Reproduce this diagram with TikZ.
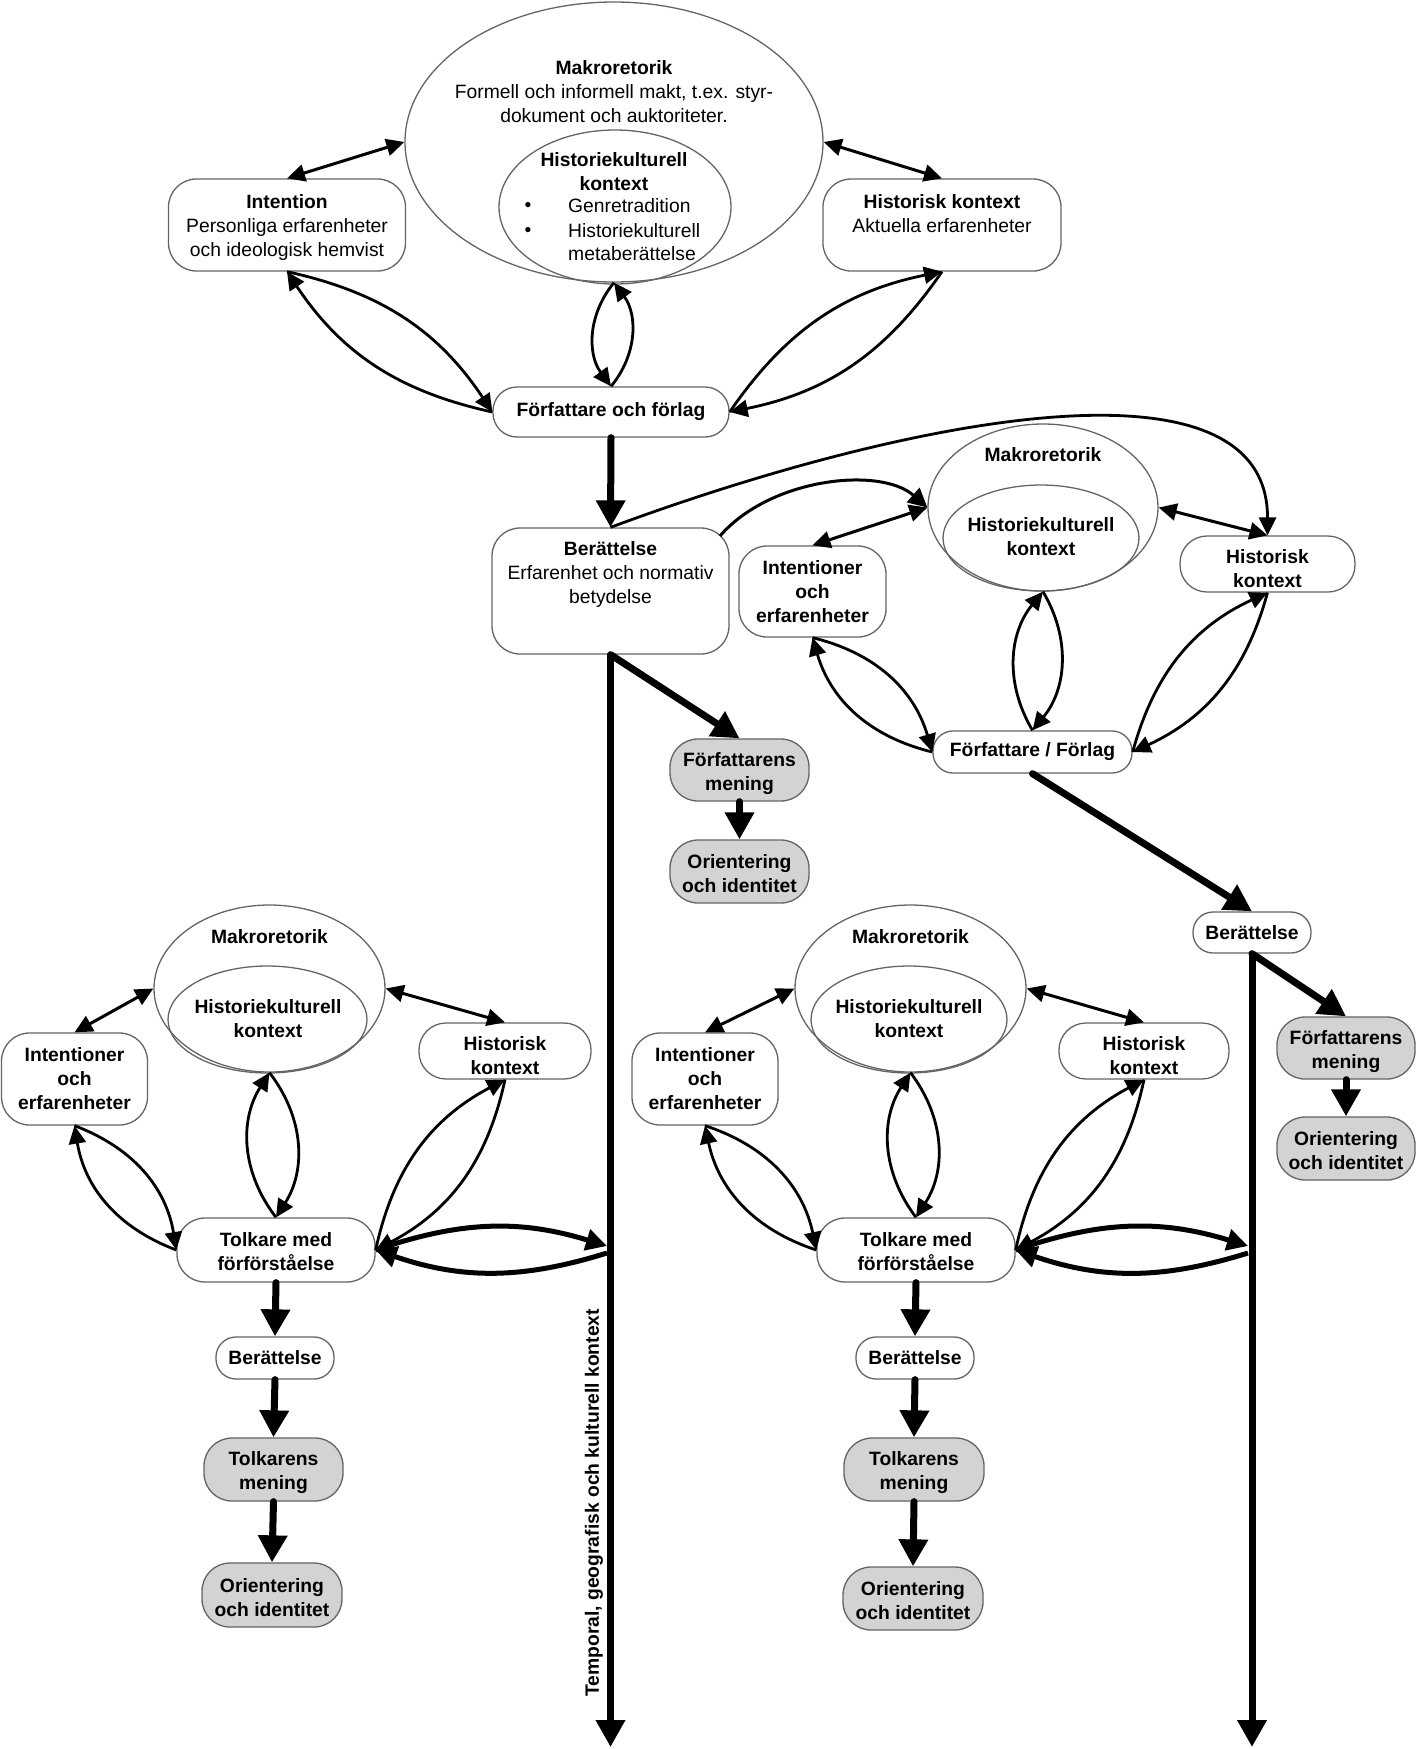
\documentclass[tikz,border=0pt]{standalone}
\usepackage{fontspec}
\setmainfont{Liberation Sans}
\usetikzlibrary{arrows.meta,shapes.geometric}
\definecolor{boxgray}{RGB}{100,100,100}
\definecolor{fillgray}{RGB}{211,211,211}
\newcommand{\myfs}{\fontsize{19.3pt}{24pt}\selectfont}
\newcommand{\tup}[1]{\rule{0pt}{#1}}
\begin{document}
\begin{tikzpicture}[x=1pt,y=1pt,
  every node/.style={font=\myfs, align=center, inner sep=0pt},
  bf/.style={font=\myfs\bfseries},
  sz/.style 2 args={minimum width=#1pt, minimum height=#2pt},
  box/.style={draw=boxgray, line width=1.3pt, fill=white, rounded corners=#1, inner sep=0pt, font=\myfs\bfseries},
  box/.default=28pt,
  gbox/.style={box=#1, fill=fillgray},
  gbox/.default=28pt,
  ell/.style={ellipse, draw=boxgray, line width=1.3pt, inner sep=0pt},
  conn/.style={line width=2.8pt, -{Triangle[length=18pt,width=17pt]}},
  dblarr/.style={line width=3pt, {Triangle[length=18pt,width=17pt]}-{Triangle[length=18pt,width=17pt]}},
  bigarr/.style={line width=7pt, line cap=round, -{Triangle[length=27pt,width=28pt]}},
  medarr/.style={line width=5pt, -{Triangle[length=21pt,width=21pt]}},
]
\useasboundingbox (0,0) rectangle (1417,-1749);

% ---------------- top section ----------------
\node[ell, sz={418}{280}] (mak1) at (614,-142) {};
\node[ell, sz={232}{154}] (hk1) at (615,-207) {};
\node (mak1t) at (614,-92) {\textbf{Makroretorik}\\Formell och informell makt, t.ex. styr-\\dokument och auktoriteter.};
\node[bf] (hk1t) at (614,-172) {Historiekulturell\\kontext};
\node (bul1) at (528,-207) {•};
\node (bul2) at (528,-232) {•};
\node[anchor=west, text height=14pt, text depth=4pt] (g1) at (568,-207) {Genretradition};
\node[anchor=west, text height=14pt, text depth=4pt] (g2) at (568,-232) {Historiekulturell};
\node[anchor=west, text height=14pt, text depth=4pt] (g3) at (568,-255) {metaberättelse};

\node[box, sz={237}{92}, font=\myfs] (int1) at (287,-225) {\tup{18pt}\textbf{Intention}\\Personliga erfarenheter\\och ideologisk hemvist};
\node[box, sz={238}{92}] (his1) at (942,-225) {};
\node (his1t) at (942,-213.5) {\textbf{Historisk kontext}\\Aktuella erfarenheter};
\node[box=24pt, sz={236}{50}] (F1) at (611,-412) {Författare och förlag};

\draw[dblarr] (int1.north) -- (mak1.west);
\draw[dblarr] (mak1.east) -- (his1.north);
\draw[conn] (int1.south) to[bend left=22] (F1.west);
\draw[conn] (F1.west) to[bend left=22] (int1.south);
\draw[conn] (his1.south) to[bend left=22] (F1.east);
\draw[conn] (F1.east) to[bend left=22] (his1.south);
\draw[conn] (mak1.south) to[bend right=38] (F1.north);
\draw[conn] (F1.north) to[bend right=38] (mak1.south);

% ---------------- middle section ----------------
\node[box, sz={237}{126}] (ber1) at (610.5,-591) {};
\node (ber1t) at (610.5,-574.5) {\textbf{Berättelse}\\Erfarenhet och normativ\\betydelse};
\coordinate (b1c) at (720,-536);

\node[ell, sz={230}{167}] (mak2) at (1043,-507.5) {};
\node[ell, sz={196}{106}] (hk2) at (1041,-538) {};
\node[bf] (mak2t) at (1043,-455) {Makroretorik};
\node[bf] (hk2t) at (1041,-536.5) {Historiekulturell\\kontext};
\node[box, sz={147}{91}] (int2) at (812.5,-591.5) {Intentioner\\och\\erfarenheter};
\node[box=27pt, sz={175}{56}] (his2) at (1267.5,-564) {\tup{23pt}Historisk\\kontext};
\node[box=20pt, sz={199}{42}] (F2) at (1032.5,-752) {Författare / Förlag};
\node[gbox, sz={139}{62}] (FM1) at (739.5,-770) {\tup{21pt}Författarens\\mening};
\node[gbox, sz={139}{63}] (OI1) at (739.5,-871.5) {\tup{19pt}Orientering\\och identitet};
\node[box=20pt, sz={118}{41}] (berR) at (1252,-932.5) {Berättelse};
\node[gbox, sz={138}{62}] (FMR) at (1346,-1048) {\tup{21pt}Författarens\\mening};
\node[gbox, sz={138}{63}] (OIR) at (1346,-1148.5) {\tup{19pt}Orientering\\och identitet};

\draw[bigarr] (F1.south) -- (ber1.north);
\draw[line width=3pt, -{Triangle[length=19pt,width=19pt]}] (b1c) .. controls (770,-478) and (880,-466) .. (mak2.west);
\draw[conn] (ber1.north) .. controls (900,-420) and (1268,-345) .. (his2.north);
\draw[dblarr] (int2.north) -- (mak2.west);
\draw[dblarr] (mak2.east) -- (his2.north);
\draw[conn] (int2.south) to[bend left=30] (F2.west);
\draw[conn] (F2.west) to[bend left=30] (int2.south);
\draw[conn] (F2.north) to[bend left=35] (mak2.south);
\draw[conn] (mak2.south) to[bend left=35] (F2.north);
\draw[conn] (his2.south) to[bend left=25] (F2.east);
\draw[conn] (F2.east) to[bend left=25] (his2.south);
\draw[bigarr] (ber1.south) -- (FM1.north);
\draw[bigarr] (FM1.south) -- (OI1.north);
\draw[bigarr] (F2.south) -- (berR.north);
\draw[bigarr] (berR.south) -- (FMR.north);
\draw[bigarr] (FMR.south) -- (OIR.north);

\coordinate (endL) at (612,-1747);
\draw[bigarr, line cap=butt] (ber1.south) -- (ber1.south |- endL);
\draw[bigarr, line cap=butt] (berR.south) -- (berR.south |- endL);
\node[bf, rotate=90, anchor=west] (tgk) at (594,-1697) {Temporal, geografisk och kulturell kontext};

% ---------------- bottom-left section ----------------
\node[ell, sz={231}{167}] (mak3) at (269.5,-988.5) {};
\node[ell, sz={199}{107}] (hk3) at (267.5,-1019.5) {};
\node[bf] (mak3t) at (269.5,-937) {Makroretorik};
\node[bf] (hk3t) at (268,-1018.5) {Historiekulturell\\kontext};
\node[box, sz={146}{92}] (int3) at (74.5,-1079) {Intentioner\\och\\erfarenheter};
\node[box=27pt, sz={172}{56}] (his3) at (505,-1051) {\tup{23pt}Historisk\\kontext};
\node[box, sz={198}{64}] (tolk3) at (276,-1250) {\tup{18pt}Tolkare med\\förförståelse};
\node[box=20pt, sz={118}{42}] (ber3) at (275,-1358) {Berättelse};
\node[gbox, sz={139}{63}] (tm3) at (273.5,-1469.5) {\tup{21pt}Tolkarens\\mening};
\node[gbox, sz={140}{64}] (oi3) at (272,-1595) {\tup{19pt}Orientering\\och identitet};

\draw[dblarr] (int3.north) -- (mak3.west);
\draw[dblarr] (mak3.east) -- (his3.north);
\draw[conn] (int3.south) to[bend left=30] (tolk3.west);
\draw[conn] (tolk3.west) to[bend left=30] (int3.south);
\draw[conn] (tolk3.north) to[bend left=35] (mak3.south);
\draw[conn] (mak3.south) to[bend left=35] (tolk3.north);
\draw[conn] (his3.south) to[bend left=25] (tolk3.east);
\draw[conn] (tolk3.east) to[bend left=25] (his3.south);
\coordinate (hL1) at (607,-1246);
\coordinate (hL2) at (607,-1253);
\draw[medarr] (tolk3.east) to[bend left=18] (hL1);
\draw[medarr] (hL2) to[bend left=18] (tolk3.east);
\draw[bigarr] (tolk3.south) -- (ber3.north);
\draw[bigarr] (ber3.south) -- (tm3.north);
\draw[bigarr] (tm3.south) -- (oi3.north);

% ---------------- bottom-right section ----------------
\node[ell, sz={231}{167}] (mak4) at (910.5,-988.5) {};
\node[ell, sz={196}{107}] (hk4) at (909,-1019.5) {};
\node[bf] (mak4t) at (910.5,-937) {Makroretorik};
\node[bf] (hk4t) at (909,-1018.5) {Historiekulturell\\kontext};
\node[box, sz={146}{92}] (int4) at (705,-1079) {Intentioner\\och\\erfarenheter};
\node[box=27pt, sz={170}{56}] (his4) at (1144,-1051) {\tup{23pt}Historisk\\kontext};
\node[box, sz={198}{64}] (tolk4) at (916,-1250) {\tup{18pt}Tolkare med\\förförståelse};
\node[box=20pt, sz={118}{42}] (ber4) at (915,-1358) {Berättelse};
\node[gbox, sz={140}{63}] (tm4) at (914,-1469.5) {\tup{21pt}Tolkarens\\mening};
\node[gbox, sz={140}{63}] (oi4) at (913,-1598.5) {\tup{19pt}Orientering\\och identitet};

\draw[dblarr] (int4.north) -- (mak4.west);
\draw[dblarr] (mak4.east) -- (his4.north);
\draw[conn] (int4.south) to[bend left=30] (tolk4.west);
\draw[conn] (tolk4.west) to[bend left=30] (int4.south);
\draw[conn] (tolk4.north) to[bend left=35] (mak4.south);
\draw[conn] (mak4.south) to[bend left=35] (tolk4.north);
\draw[conn] (his4.south) to[bend left=25] (tolk4.east);
\draw[conn] (tolk4.east) to[bend left=25] (his4.south);
\coordinate (hR1) at (1248,-1246);
\coordinate (hR2) at (1248,-1253);
\draw[medarr] (tolk4.east) to[bend left=18] (hR1);
\draw[medarr] (hR2) to[bend left=18] (tolk4.east);
\draw[bigarr] (tolk4.south) -- (ber4.north);
\draw[bigarr] (ber4.south) -- (tm4.north);
\draw[bigarr] (tm4.south) -- (oi4.north);
\end{tikzpicture}
\end{document}
